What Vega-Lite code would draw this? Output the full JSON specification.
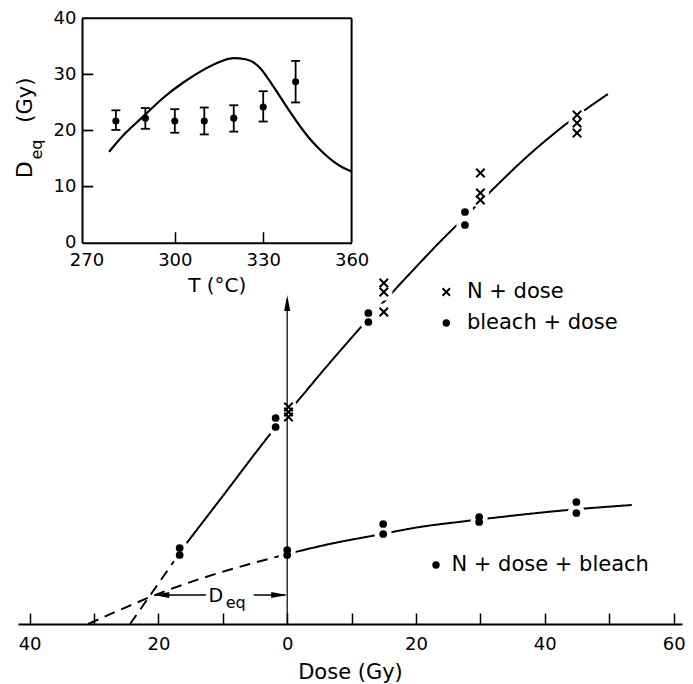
{
  "$schema": "https://vega.github.io/schema/vega-lite/v6.json",
  "width": 664,
  "height": 624,
  "autosize": {"type": "none"},
  "padding": {"left": 18, "top": 0, "right": 11, "bottom": 60},
  "background": "white",
  "config": {
    "view": {"stroke": null},
    "font": "DejaVu Sans",
    "axis": {"domainColor": "black", "tickColor": "black", "labelColor": "black", "titleColor": "black", "grid": false, "labelFont": "DejaVu Sans", "titleFont": "DejaVu Sans", "titleFontWeight": "normal"}
  },
  "datasets": {
    "fits": [
      {"curve": "upper", "style": "dashed", "dose": -24.4, "signal": 0},
      {"curve": "upper", "style": "dashed", "dose": -15.6, "signal": 81},
      {"curve": "upper", "style": "solid", "dose": -15.6, "signal": 81},
      {"curve": "upper", "style": "solid", "dose": -10, "signal": 128},
      {"curve": "upper", "style": "solid", "dose": -3, "signal": 187},
      {"curve": "upper", "style": "solid", "dose": 0, "signal": 211},
      {"curve": "upper", "style": "solid", "dose": 1.5, "signal": 222},
      {"curve": "upper", "style": "solid", "dose": 5, "signal": 249},
      {"curve": "upper", "style": "solid", "dose": 11.6, "signal": 298},
      {"curve": "upper", "style": "solid", "dose": 14.4, "signal": 318},
      {"curve": "upper", "style": "solid", "dose": 20, "signal": 357},
      {"curve": "upper", "style": "solid", "dose": 24, "signal": 384},
      {"curve": "upper", "style": "solid", "dose": 26.5, "signal": 400},
      {"curve": "upper", "style": "solid", "dose": 31.5, "signal": 432},
      {"curve": "upper", "style": "solid", "dose": 37, "signal": 466},
      {"curve": "upper", "style": "solid", "dose": 43.1, "signal": 499},
      {"curve": "upper", "style": "solid", "dose": 49.8, "signal": 530},
      {"curve": "lower", "style": "dashed", "dose": -30.9, "signal": 0},
      {"curve": "lower", "style": "dashed", "dose": -26, "signal": 14},
      {"curve": "lower", "style": "dashed", "dose": -20.9, "signal": 28},
      {"curve": "lower", "style": "dashed", "dose": -13.6, "signal": 45},
      {"curve": "lower", "style": "dashed", "dose": -5.8, "signal": 60},
      {"curve": "lower", "style": "dashed", "dose": 0, "signal": 70},
      {"curve": "lower", "style": "solid", "dose": 0, "signal": 70},
      {"curve": "lower", "style": "solid", "dose": 6.6, "signal": 80},
      {"curve": "lower", "style": "solid", "dose": 13.9, "signal": 89},
      {"curve": "lower", "style": "solid", "dose": 20.6, "signal": 97},
      {"curve": "lower", "style": "solid", "dose": 27.9, "signal": 103},
      {"curve": "lower", "style": "solid", "dose": 31.8, "signal": 106},
      {"curve": "lower", "style": "solid", "dose": 43.6, "signal": 114},
      {"curve": "lower", "style": "solid", "dose": 53.5, "signal": 119}
    ],
    "markers": [
      {"series": "N + dose", "dose": 0.2, "signal": 217},
      {"series": "N + dose", "dose": 0.2, "signal": 212},
      {"series": "N + dose", "dose": 0.2, "signal": 207},
      {"series": "N + dose", "dose": 15, "signal": 341},
      {"series": "N + dose", "dose": 15, "signal": 332},
      {"series": "N + dose", "dose": 15, "signal": 312},
      {"series": "N + dose", "dose": 30, "signal": 451},
      {"series": "N + dose", "dose": 30, "signal": 431},
      {"series": "N + dose", "dose": 30, "signal": 424},
      {"series": "N + dose", "dose": 45, "signal": 509},
      {"series": "N + dose", "dose": 45, "signal": 501},
      {"series": "N + dose", "dose": 45, "signal": 491},
      {"series": "bleach + dose", "dose": -16.7, "signal": 76},
      {"series": "bleach + dose", "dose": -16.7, "signal": 69},
      {"series": "bleach + dose", "dose": -1.8, "signal": 206},
      {"series": "bleach + dose", "dose": -1.8, "signal": 197},
      {"series": "bleach + dose", "dose": 12.6, "signal": 311},
      {"series": "bleach + dose", "dose": 12.6, "signal": 302},
      {"series": "bleach + dose", "dose": 27.6, "signal": 412},
      {"series": "bleach + dose", "dose": 27.6, "signal": 399},
      {"series": "N + dose + bleach", "dose": 0, "signal": 74},
      {"series": "N + dose + bleach", "dose": 0, "signal": 69},
      {"series": "N + dose + bleach", "dose": 14.9, "signal": 100},
      {"series": "N + dose + bleach", "dose": 14.9, "signal": 90},
      {"series": "N + dose + bleach", "dose": 29.8, "signal": 107},
      {"series": "N + dose + bleach", "dose": 29.8, "signal": 102},
      {"series": "N + dose + bleach", "dose": 44.9, "signal": 122},
      {"series": "N + dose + bleach", "dose": 44.9, "signal": 111}
    ],
    "insetPts": [
      {"T": 280, "Deq": 21.7, "lo": 20.1, "hi": 23.6},
      {"T": 290, "Deq": 22.2, "lo": 20.3, "hi": 24.0},
      {"T": 300, "Deq": 21.7, "lo": 19.6, "hi": 23.8},
      {"T": 310, "Deq": 21.7, "lo": 19.3, "hi": 24.1},
      {"T": 320, "Deq": 22.2, "lo": 19.8, "hi": 24.5},
      {"T": 330, "Deq": 24.2, "lo": 21.6, "hi": 27.0},
      {"T": 341, "Deq": 28.7, "lo": 25.0, "hi": 32.4}
    ],
    "insetCurve": [
      {"T": 277.7, "Deq": 16.2},
      {"T": 283, "Deq": 19.4},
      {"T": 289.5, "Deq": 22.6},
      {"T": 296, "Deq": 25.8},
      {"T": 303, "Deq": 28.6},
      {"T": 310, "Deq": 30.9},
      {"T": 316, "Deq": 32.4},
      {"T": 320, "Deq": 32.9},
      {"T": 324, "Deq": 32.7},
      {"T": 326.5, "Deq": 32.2},
      {"T": 329, "Deq": 31.1},
      {"T": 332, "Deq": 29.0},
      {"T": 335, "Deq": 26.6},
      {"T": 339, "Deq": 23.4},
      {"T": 343, "Deq": 20.4},
      {"T": 347, "Deq": 17.8},
      {"T": 350, "Deq": 16.2},
      {"T": 354, "Deq": 14.4},
      {"T": 357, "Deq": 13.4},
      {"T": 360, "Deq": 12.7}
    ]
  },
  "layer": [
    {
      "encoding": {
        "x": {
          "field": "dose", "type": "quantitative",
          "scale": {"domain": [-41.8, 61.3], "nice": false, "zero": false},
          "axis": {
            "values": [-40, -30, -20, -10, 0, 10, 20, 30, 40, 50, 60],
            "labelExpr": "datum.value % 20 == 0 ? '' + abs(datum.value) : ''",
            "tickSize": -11, "tickWidth": 1.5, "domainWidth": 2,
            "labelPadding": 22, "labelFontSize": 18, "labelFlush": false, "labelOverlap": false,
            "title": "Dose (Gy)", "titleFontSize": 21, "titlePadding": 8
          }
        },
        "y": {"field": "signal", "type": "quantitative", "scale": {"domain": [0, 624], "nice": false, "zero": false}, "axis": null}
      },
      "layer": [
        {
          "data": {"name": "fits"},
          "mark": {"type": "line", "color": "black", "strokeWidth": 2, "interpolate": "monotone"},
          "encoding": {
            "detail": {"field": "curve", "type": "nominal"},
            "strokeDash": {"field": "style", "type": "nominal", "scale": {"domain": ["dashed", "solid"], "range": [[11, 7], [1, 0]]}, "legend": null}
          }
        },
        {
          "data": {"name": "markers"},
          "mark": {"type": "circle", "color": "white", "opacity": 1, "size": 300}
        },
        {
          "data": {"values": [{"dose": 0, "signal": 0, "signal2": 314}]},
          "mark": {"type": "rule", "color": "black", "strokeWidth": 1.2},
          "encoding": {"y2": {"field": "signal2"}}
        },
        {
          "data": {"values": [{"dose": 0, "signal": 329}]},
          "mark": {"type": "point", "shape": "M0,0L-0.6,3.2L0.6,3.2Z", "filled": true, "color": "black", "opacity": 1, "size": 100}
        },
        {
          "data": {"values": [{"dose": -20.4, "dose2": -12.6, "signal": 29}, {"dose": -5.2, "dose2": -0.3, "signal": 29}]},
          "mark": {"type": "rule", "color": "black", "strokeWidth": 1.5},
          "encoding": {"x2": {"field": "dose2"}}
        },
        {
          "data": {"values": [{"dose": -20.8, "signal": 29}]},
          "mark": {"type": "point", "shape": "M0,0L3.2,-0.6L3.2,0.6Z", "filled": true, "color": "black", "opacity": 1, "size": 100}
        },
        {
          "data": {"values": [{"dose": 0, "signal": 29}]},
          "mark": {"type": "point", "shape": "M0,0L-3.2,-0.6L-3.2,0.6Z", "filled": true, "color": "black", "opacity": 1, "size": 100}
        },
        {
          "data": {"name": "markers"},
          "transform": [{"filter": "datum.series == 'N + dose'"}],
          "mark": {"type": "point", "shape": "M-1,-1L1,1M-1,1L1,-1", "filled": false, "color": "black", "opacity": 1, "strokeWidth": 2, "size": 72}
        },
        {
          "data": {"name": "markers"},
          "transform": [{"filter": "datum.series != 'N + dose'"}],
          "mark": {"type": "circle", "color": "black", "opacity": 1, "size": 60}
        },
        {
          "data": {"values": [{"dose": 24.7, "signal": 332}]},
          "mark": {"type": "point", "shape": "M-1,-1L1,1M-1,1L1,-1", "filled": false, "color": "black", "opacity": 1, "strokeWidth": 2, "size": 56}
        },
        {
          "data": {"values": [{"dose": 24.7, "signal": 301}, {"dose": 23.1, "signal": 59}]},
          "mark": {"type": "circle", "color": "black", "opacity": 1, "size": 55}
        },
        {
          "data": {"values": [{"dose": 27.9, "signal": 332, "t": "N + dose"}, {"dose": 27.9, "signal": 301, "t": "bleach + dose"}, {"dose": 25.5, "signal": 59, "t": "N + dose + bleach"}]},
          "mark": {"type": "text", "align": "left", "baseline": "middle", "fontSize": 21, "color": "black"},
          "encoding": {"text": {"field": "t"}}
        },
        {
          "data": {"values": [{"dose": -11.1, "signal": 28, "t": "D"}]},
          "mark": {"type": "text", "align": "center", "baseline": "middle", "fontSize": 19, "color": "black"},
          "encoding": {"text": {"field": "t"}}
        },
        {
          "data": {"values": [{"dose": -8.0, "signal": 21, "t": "eq"}]},
          "mark": {"type": "text", "align": "center", "baseline": "middle", "fontSize": 16, "color": "black"},
          "encoding": {"text": {"field": "t"}}
        }
      ]
    },
    {
      "encoding": {
        "x": {
          "field": "T", "type": "quantitative",
          "scale": {"domain": [268.5, 360], "range": [64, 333.6], "nice": false, "zero": false},
          "axis": {
            "orient": "bottom", "offset": -381.3,
            "values": [270, 300, 330, 360],
            "tickSize": -11, "tickWidth": 1.5, "domainWidth": 2,
            "tickOpacity": {"condition": {"test": "datum.value == 270 || datum.value == 360", "value": 0}, "value": 1},
            "labelPadding": 20, "labelFontSize": 18, "labelFlush": false, "labelOverlap": false,
            "title": "T (°C)", "titleFontSize": 20, "titlePadding": 6
          }
        },
        "y": {
          "field": "Deq", "type": "quantitative",
          "scale": {"domain": [0, 40], "range": [242.7, 18.3], "nice": false, "zero": false},
          "axis": {
            "orient": "left", "offset": -64,
            "values": [0, 10, 20, 30, 40],
            "ticks": false, "domainWidth": 2,
            "labelPadding": 6, "labelFontSize": 18, "labelFlush": false, "labelOverlap": false,
            "title": null
          }
        }
      },
      "layer": [
        {
          "data": {"values": [{"T": 268.5, "T2": 360, "Deq": 40}]},
          "mark": {"type": "rule", "color": "black", "strokeWidth": 2},
          "encoding": {"x2": {"field": "T2"}}
        },
        {
          "data": {"values": [{"T": 360, "Deq": 0, "Deq2": 40}]},
          "mark": {"type": "rule", "color": "black", "strokeWidth": 2},
          "encoding": {"y2": {"field": "Deq2"}}
        },
        {
          "data": {"values": [{"T": 268.5, "T2": 272.3, "Deq": 10}, {"T": 268.5, "T2": 272.3, "Deq": 20}, {"T": 268.5, "T2": 272.3, "Deq": 30}]},
          "mark": {"type": "rule", "color": "black", "strokeWidth": 1.8},
          "encoding": {"x2": {"field": "T2"}}
        },
        {
          "data": {"name": "insetCurve"},
          "mark": {"type": "line", "color": "black", "strokeWidth": 2.2, "interpolate": "monotone"}
        },
        {
          "data": {"name": "insetPts"},
          "mark": {"type": "rule", "color": "black", "strokeWidth": 1.8},
          "encoding": {"y2": {"field": "hi"}, "y": {
            "field": "lo", "type": "quantitative",
            "scale": {"domain": [0, 40], "range": [242.7, 18.3], "nice": false, "zero": false},
            "axis": {
              "orient": "left", "offset": -64,
              "values": [0, 10, 20, 30, 40],
              "ticks": false, "domainWidth": 2,
              "labelPadding": 6, "labelFontSize": 18, "labelFlush": false, "labelOverlap": false,
              "title": null
            }
          }}
        },
        {
          "data": {"name": "insetPts"},
          "mark": {"type": "tick", "orient": "horizontal", "size": 9, "thickness": 1.8, "color": "black", "opacity": 1},
          "encoding": {"y": {
            "field": "lo", "type": "quantitative",
            "scale": {"domain": [0, 40], "range": [242.7, 18.3], "nice": false, "zero": false},
            "axis": {
              "orient": "left", "offset": -64,
              "values": [0, 10, 20, 30, 40],
              "ticks": false, "domainWidth": 2,
              "labelPadding": 6, "labelFontSize": 18, "labelFlush": false, "labelOverlap": false,
              "title": null
            }
          }}
        },
        {
          "data": {"name": "insetPts"},
          "mark": {"type": "tick", "orient": "horizontal", "size": 9, "thickness": 1.8, "color": "black", "opacity": 1},
          "encoding": {"y": {
            "field": "hi", "type": "quantitative",
            "scale": {"domain": [0, 40], "range": [242.7, 18.3], "nice": false, "zero": false},
            "axis": {
              "orient": "left", "offset": -64,
              "values": [0, 10, 20, 30, 40],
              "ticks": false, "domainWidth": 2,
              "labelPadding": 6, "labelFontSize": 18, "labelFlush": false, "labelOverlap": false,
              "title": null
            }
          }}
        },
        {
          "data": {"name": "insetPts"},
          "mark": {"type": "circle", "color": "black", "opacity": 1, "size": 50}
        },
        {
          "data": {"values": [{"T": 249.1, "Deq": 13.0, "t": "D"}]},
          "mark": {"type": "text", "align": "center", "baseline": "middle", "angle": 270, "fontSize": 22, "color": "black"},
          "encoding": {"text": {"field": "t"}}
        },
        {
          "data": {"values": [{"T": 253.2, "Deq": 16.6, "t": "eq"}]},
          "mark": {"type": "text", "align": "center", "baseline": "middle", "angle": 270, "fontSize": 16, "color": "black"},
          "encoding": {"text": {"field": "t"}}
        },
        {
          "data": {"values": [{"T": 249.4, "Deq": 25.4, "t": "(Gy)"}]},
          "mark": {"type": "text", "align": "center", "baseline": "middle", "angle": 270, "fontSize": 21, "color": "black"},
          "encoding": {"text": {"field": "t"}}
        }
      ]
    }
  ],
  "resolve": {"scale": {"x": "independent", "y": "independent"}}
}
